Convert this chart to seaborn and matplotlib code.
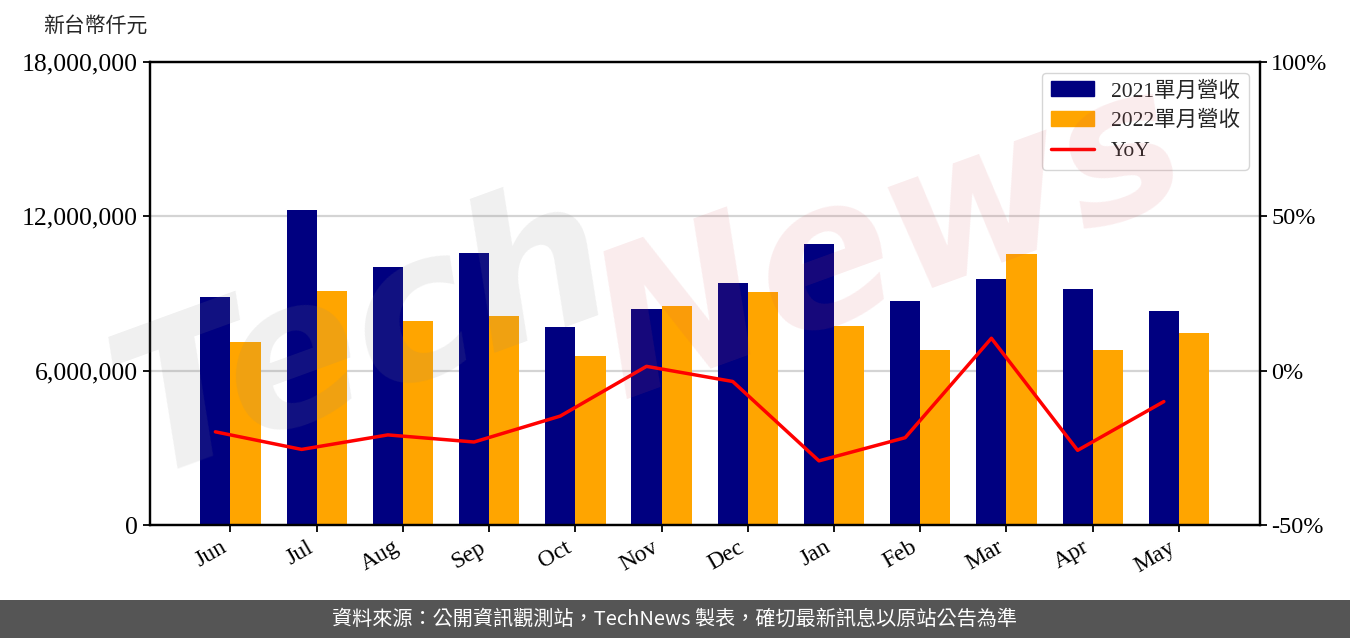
import numpy as np
import pandas as pd
import matplotlib
matplotlib.use('Agg')
import matplotlib.pyplot as plt
import seaborn as sns
from matplotlib.patches import Patch, Rectangle
from matplotlib.lines import Line2D
from matplotlib.ticker import FuncFormatter

# data
months = ['Jun', 'Jul', 'Aug', 'Sep', 'Oct', 'Nov', 'Dec', 'Jan', 'Feb', 'Mar', 'Apr', 'May']
rev_2021 = [8860000, 12250000, 10030000, 10580000, 7700000, 8400000,
            9410000, 10930000, 8710000, 9560000, 9180000, 8320000]
rev_2022 = [7110000, 9100000, 7930000, 8130000, 6570000, 8510000,
            9060000, 7740000, 6800000, 10540000, 6800000, 7470000]
yoy = [-19.8, -25.5, -20.8, -23.1, -14.7, 1.4, -3.5, -29.2, -21.7, 10.5, -25.8, -10.0]
series_names = ['2021單月營收', '2022單月營收']
unit_label = '新台幣仟元'
source_text = '資料來源：公開資訊觀測站，TechNews 製表，確切最新訊息以原站公告為準'

sns.set_style('ticks')
plt.rcParams['font.family'] = ['Liberation Serif', 'Noto Sans CJK TC']

df = pd.DataFrame({
    'month': months * 2,
    'revenue': rev_2021 + rev_2022,
    'series': [series_names[0]] * 12 + [series_names[1]] * 12,
})

fig = plt.figure(figsize=(13.5, 6.38), dpi=100)
ax = fig.add_axes([0.111, 0.177, 0.822, 0.726])

sns.barplot(data=df, x='month', y='revenue', hue='series', order=months,
            palette=['#000080', '#FFA500'], width=0.7, saturation=1,
            linewidth=0, legend=False, ax=ax)
ax.set_xlim(-0.935, 11.935)
ax.set_ylim(0, 18000000)
ax.set_yticks([0, 6000000, 12000000, 18000000])
ax.yaxis.set_major_formatter(FuncFormatter(lambda v, p: f'{v:,.0f}'))
ax.yaxis.grid(True, color='#d4d4d4', linewidth=1.6)
ax.set_axisbelow(True)
ax.set_xlabel('')
ax.set_ylabel('')
ax.tick_params(axis='both', labelsize=18.5, colors='black', length=5, width=1.3)
for lab in ax.get_xticklabels():
    lab.set_rotation(30)
    lab.set_ha('right')
    lab.set_fontsize(17)

ax2 = ax.twinx()
sns.lineplot(x=np.arange(len(months)) - 0.175, y=yoy, color='red',
             linewidth=2.5, ax=ax2)
ax2.set_ylim(-50, 100)
ax2.set_yticks([-50, 0, 50, 100])
ax2.yaxis.set_major_formatter(FuncFormatter(lambda v, p: f'{v:.0f}%'))
ax2.set_ylabel('')
ax2.tick_params(axis='y', labelsize=17.5, colors='black', length=5, width=1.3)

for a in (ax, ax2):
    for s in a.spines.values():
        s.set_visible(True)
        s.set_color('black')
        s.set_linewidth(1.6)

handles = [Patch(color='#000080'), Patch(color='#FFA500'),
           Line2D([0], [0], color='red', linewidth=2.5)]
ax2.legend(handles, series_names + ['YoY'], loc='upper right', fontsize=15.5,
           labelspacing=0.45)

fig.text(0.032, 0.958, unit_label, fontsize=15, va='center', ha='left')

# watermark
fig.text(0.27, 0.47, 'Tech', fontsize=145, fontweight='bold', style='italic',
         family='DejaVu Sans', color='#888888', alpha=0.13, rotation=20,
         ha='center', va='center', zorder=10)
fig.text(0.66, 0.62, 'News', fontsize=145, fontweight='bold', style='italic',
         family='DejaVu Sans', color='#d9505a', alpha=0.11, rotation=20,
         ha='center', va='center', zorder=10)

# footer band
fig.patches.append(Rectangle((0, 0), 1, 0.0596, transform=fig.transFigure,
                             facecolor='#555555', edgecolor='none'))
fig.text(0.5, 0.0298, source_text, fontsize=14.5, color='white',
         family=['Noto Sans CJK TC', 'DejaVu Sans'], ha='center', va='center')

fig.savefig('out.png', dpi=100)
